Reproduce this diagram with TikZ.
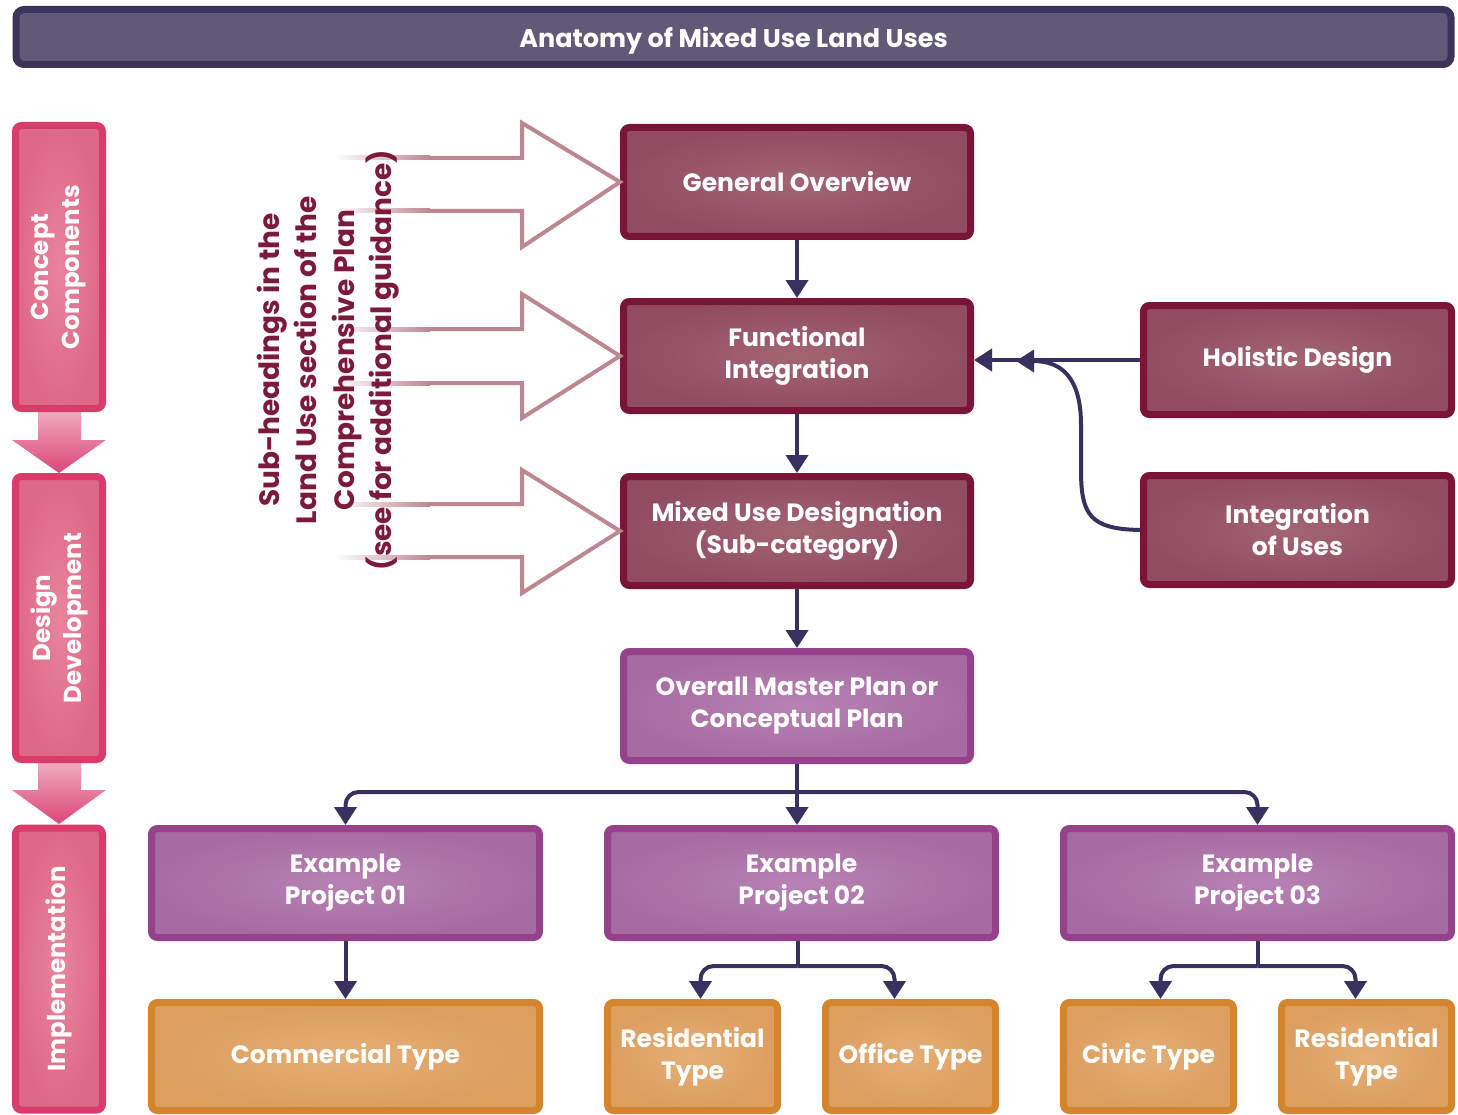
\documentclass[tikz,border=0pt]{standalone}
\usepackage{fontspec}
\setmainfont{Poppins}
\usetikzlibrary{arrows.meta,calc}

\definecolor{titleline}{HTML}{3D3358}
\definecolor{titlefill}{HTML}{625878}
\definecolor{sideline}{HTML}{D93B6B}
\definecolor{sidein}{HTML}{E8849B}
\definecolor{sideout}{HTML}{DE6887}
\definecolor{sidetop}{HTML}{F2B3C6}
\definecolor{sidetip}{HTML}{DC4676}
\definecolor{maroonline}{HTML}{7A1538}
\definecolor{maroonin}{HTML}{A36572}
\definecolor{maroonout}{HTML}{914C62}
\definecolor{plumline}{HTML}{96418C}
\definecolor{plumin}{HTML}{B782B3}
\definecolor{plumout}{HTML}{A76BA3}
\definecolor{orangeline}{HTML}{D4862F}
\definecolor{orangein}{HTML}{E5AE74}
\definecolor{orangeout}{HTML}{DD9E60}
\definecolor{linkcol}{HTML}{3A3060}
\definecolor{hollowcol}{HTML}{BD8790}
\definecolor{subcol}{HTML}{7B1A3D}

\begin{document}
\begin{tikzpicture}[x=1pt,y=-1pt]
\tikzset{box/.style = {draw, line width=7pt, rounded corners=6pt, inner sep=0pt, align=center, text=white, font=\bfseries\fontsize{25}{32}\selectfont}}
\tikzset{maroon/.style = {box, draw=maroonline, inner color=maroonin, outer color=maroonout}}
\tikzset{plum/.style = {box, draw=plumline, inner color=plumin, outer color=plumout}}
\tikzset{orange/.style = {box, draw=orangeline, inner color=orangein, outer color=orangeout}}
\tikzset{sidebox/.style = {box, draw=sideline, inner color=sidein, outer color=sideout, rotate=90, minimum width=283pt, minimum height=87pt, font=\bfseries\fontsize{24.5}{31}\selectfont}}
\tikzset{edge/.style = {->, > = {Triangle[width=22pt,length=18pt]}, line width=4pt, draw=linkcol}}
\tikzset{link/.style = {line width=4pt, draw=linkcol}}
\tikzset{hollow/.style = {line width=4pt, draw=hollowcol, line join=miter}}
\tikzset{fadeline/.style = {left color=white, right color=hollowcol}}
\tikzset{sidearrow/.style = {top color=sidetop, bottom color=sidetip}}

\useasboundingbox (0,0) rectangle (1458,1115);

\node[box, draw=titleline, fill=titlefill, rounded corners=8pt, minimum width=1435pt, minimum height=55pt, font=\bfseries\fontsize{25.5}{32}\selectfont] (title) at (733.5,37) {\raisebox{-4pt}[\height][\depth]{Anatomy of Mixed Use Land Uses}};

\shade[sidearrow] (38,405) -- (81,405) -- (81,440) -- (106,440) -- (59,473) -- (12,440) -- (38,440) -- cycle;
\shade[sidearrow] (38,757) -- (81,757) -- (81,790) -- (106,790) -- (59,824) -- (12,790) -- (38,790) -- cycle;

\node[sidebox] (cc) at (59,267) {Concept\\Components};
\node[sidebox] (dd) at (59,618) {Design\\Development};
\node[sidebox, minimum width=282pt] (imp) at (59,969) {Implementation};

\node[maroon, minimum width=347pt, minimum height=109pt] (go) at (797,182) {General Overview};
\node[maroon, minimum width=347pt, minimum height=109pt] (fi) at (797,356) {Functional\\Integration};
\node[maroon, minimum width=347pt, minimum height=109pt] (mu) at (797,531) {Mixed Use Designation\\(Sub-category)};
\node[plum, minimum width=347pt, minimum height=109pt] (omp) at (797,706) {Overall Master Plan or\\Conceptual Plan};
\node[maroon, minimum width=308pt, minimum height=109pt] (hol) at (1297.5,360) {Holistic Design};
\node[maroon, minimum width=308pt, minimum height=109pt] (iou) at (1297.5,530) {Integration\\of Uses};

\node[plum, minimum width=388pt, minimum height=109pt] (p1) at (345.5,883) {Example\\Project 01};
\node[plum, minimum width=388pt, minimum height=109pt] (p2) at (801.5,883) {Example\\Project 02};
\node[plum, minimum width=388pt, minimum height=109pt] (p3) at (1257.5,883) {Example\\Project 03};

\node[orange, minimum width=388pt, minimum height=108pt] (com) at (345.5,1056.5) {Commercial Type};
\node[orange, minimum width=170pt, minimum height=108pt] (res1) at (692.5,1056.5) {Residential\\Type};
\node[orange, minimum width=170pt, minimum height=108pt] (off) at (910.5,1056.5) {Office Type};
\node[orange, minimum width=170pt, minimum height=108pt] (civ) at (1148.5,1056.5) {Civic Type};
\node[orange, minimum width=170pt, minimum height=108pt] (res2) at (1366.5,1056.5) {Residential\\Type};

\shade[fadeline] (335,156) rectangle (430,160);
\shade[fadeline] (335,209) rectangle (430,213);
\shade[fadeline] (335,327) rectangle (430,331);
\shade[fadeline] (335,381) rectangle (430,385);
\shade[fadeline] (335,502) rectangle (430,506);
\shade[fadeline] (335,555) rectangle (430,559);
\draw[hollow] (430,158) -- (522,158) -- (522,123) -- (go.west) -- (522,247) -- (522,211) -- (430,211);
\draw[hollow] (430,329) -- (522,329) -- (522,294) -- (fi.west) -- (522,418) -- (522,383) -- (430,383);
\draw[hollow] (430,504) -- (522,504) -- (522,470) -- (mu.west) -- (522,593) -- (522,557) -- (430,557);

\node[rotate=90, align=center, text=subcol, font=\bfseries\fontsize{28}{37.5}\selectfont] (sub) at (328,360) {Sub-headings in the\\Land Use section of the\\Comprehensive Plan\\(see for additional guidance)};

\draw[edge] (go) to (fi);
\draw[edge] (fi) to (mu);
\draw[edge] (mu) to (omp);

\draw[edge] (hol.west) -- (hol.west -| fi.east);
\coordinate (merge) at (1016,361);
\draw[edge] (iou.west) .. controls (1090,529) and (1081,515) .. (1081,470) -- (1081,425) .. controls (1081,378) and (1062,361) .. (merge);

\coordinate (fan) at ($(omp.south)+(0,28)$);
\draw[edge] (omp.south) -- (omp.south |- p2.north);
\draw[edge, rounded corners=13pt] (fan) -| (p1.north);
\draw[edge, rounded corners=13pt] (fan) -| (p3.north);

\draw[edge] (p1) to (com);

\coordinate (split2) at ($([xshift=-4pt]p2.south)+(0,25)$);
\draw[link] ([xshift=-4pt]p2.south) -- (split2);
\draw[edge, rounded corners=13pt] (split2) -| ([xshift=8pt]res1.north);
\draw[edge, rounded corners=13pt] (split2) -| ([xshift=-16pt]off.north);

\coordinate (split3) at ($(p3.south)+(0,25)$);
\draw[link] (p3.south) -- (split3);
\draw[edge, rounded corners=13pt] (split3) -| ([xshift=12pt]civ.north);
\draw[edge, rounded corners=13pt] (split3) -| ([xshift=-11pt]res2.north);
\end{tikzpicture}
\end{document}
